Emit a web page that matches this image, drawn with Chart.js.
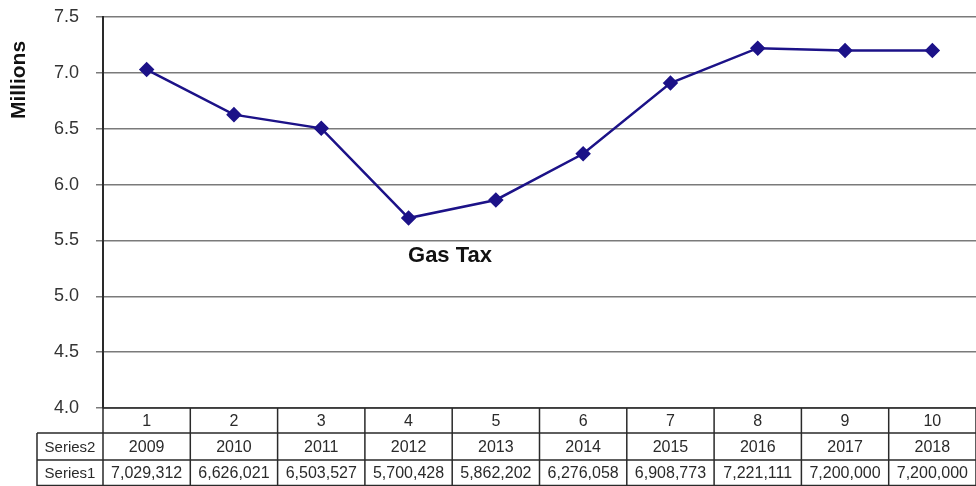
<!DOCTYPE html>
<html>
<head>
<meta charset="utf-8">
<script src="https://cdn.jsdelivr.net/npm/chart.js@4.4.1/dist/chart.umd.min.js"></script>
<style>
  html, body { margin: 0; padding: 0; background: #fff; }
  #wrap { width: 976px; height: 486px; position: relative; }
</style>
</head>
<body>
<div id="wrap"><canvas id="gasChart"></canvas></div>
<script>
// Gas tax revenue by year, raw dollars
const categories = ['1', '2', '3', '4', '5', '6', '7', '8', '9', '10'];
const years = ['2009', '2010', '2011', '2012', '2013', '2014', '2015', '2016', '2017', '2018'];
const gasTax = [7029312, 6626021, 6503527, 5700428, 5862202, 6276058, 6908773, 7221111, 7200000, 7200000];
const rowNames = ['Series2', 'Series1'];

const FONT = '"Liberation Sans", Arial, sans-serif';
const LINE = '#1c1288';

// draws the data table under the plot, the axis caption and the series label
const tablePlugin = {
    id: 'dataTable',
    afterDraw(chart) {
        const ctx = chart.ctx;
        const x = chart.scales.x;
        const area = chart.chartArea;
        const rows = [area.bottom, 433, 460, 486];
        const headLeft = 37;

        // column boundaries
        const edges = [area.left];
        for (let i = 0; i < categories.length - 1; i++) {
            edges.push((x.getPixelForTick(i) + x.getPixelForTick(i + 1)) / 2);
        }
        edges.push(area.right);

        ctx.save();
        ctx.strokeStyle = '#2a2a2a';
        ctx.lineWidth = 1.5;
        ctx.beginPath();
        // horizontal rules
        ctx.moveTo(area.left, rows[0]); ctx.lineTo(area.right, rows[0]);
        ctx.moveTo(headLeft, rows[1]); ctx.lineTo(area.right, rows[1]);
        ctx.moveTo(headLeft, rows[2]); ctx.lineTo(area.right, rows[2]);
        ctx.moveTo(headLeft, rows[3] - 0.5); ctx.lineTo(area.right, rows[3] - 0.5);
        // vertical rules
        edges.forEach(e => { ctx.moveTo(e, rows[0]); ctx.lineTo(e, rows[3]); });
        ctx.moveTo(headLeft, rows[1]); ctx.lineTo(headLeft, rows[3]);
        ctx.stroke();

        ctx.fillStyle = '#2a2a2a';
        ctx.font = '16px ' + FONT;
        ctx.textAlign = 'center';
        ctx.textBaseline = 'middle';
        const mid = r => (rows[r] + rows[r + 1]) / 2 + 1;
        categories.forEach((c, i) => {
            const cx = x.getPixelForTick(i);
            ctx.fillText(c, cx, mid(0));
            ctx.fillText(years[i], cx, mid(1));
            ctx.fillText(gasTax[i].toLocaleString('en-US'), cx, mid(2));
        });
        ctx.font = '15px ' + FONT;
        ctx.fillText(rowNames[0], (headLeft + area.left) / 2, mid(1));
        ctx.fillText(rowNames[1], (headLeft + area.left) / 2, mid(2));

        // series caption inside the plot
        ctx.fillStyle = '#111';
        ctx.font = 'bold 22px ' + FONT;
        ctx.fillText('Gas Tax', 450, 256);

        // y axis caption
        ctx.translate(19, 80);
        ctx.rotate(-Math.PI / 2);
        ctx.font = 'bold 21px ' + FONT;
        ctx.fillText('Millions', 0, 0);
        ctx.restore();
    }
};

new Chart(document.getElementById('gasChart'), {
    type: 'line',
    data: {
        labels: categories,
        datasets: [{
            label: 'Gas Tax',
            data: gasTax.map(v => v / 1e6),
            borderColor: LINE,
            backgroundColor: LINE,
            borderWidth: 2.5,
            pointStyle: 'rectRot',
            pointRadius: 6,
            pointHoverRadius: 6,
            tension: 0
        }]
    },
    options: {
        responsive: true,
        maintainAspectRatio: false,
        animation: false,
        layout: { autoPadding: false, padding: { top: 17, bottom: 78, left: 0, right: 0 } },
        plugins: { legend: { display: false }, tooltip: { enabled: false } },
        scales: {
            x: {
                offset: true,
                grid: { display: false, drawTicks: false },
                border: { display: false },
                ticks: { display: false }
            },
            y: {
                min: 4,
                max: 7.5,
                afterFit(scale) {
                    scale.width = 103;
                    scale.paddingTop = 0;
                    scale.paddingBottom = 0;
                },
                grid: { color: '#7a7a7a', lineWidth: 1.5, tickLength: 7 },
                border: { color: '#2a2a2a', width: 2 },
                ticks: {
                    stepSize: 0.5,
                    padding: 17,
                    color: '#333',
                    font: { family: FONT, size: 18 },
                    callback: v => v.toFixed(1)
                }
            }
        }
    },
    plugins: [tablePlugin]
});
</script>
</body>
</html>
